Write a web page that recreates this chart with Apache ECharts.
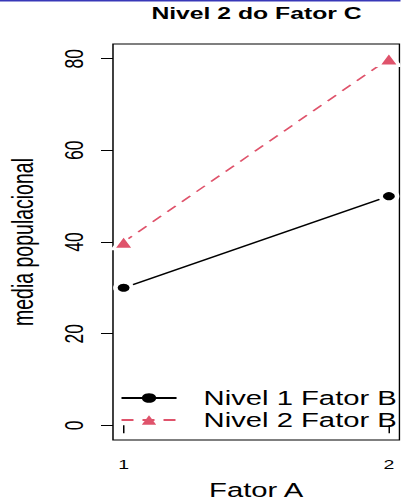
<!DOCTYPE html>
<html>
<head>
<meta charset="utf-8">
<script src="https://cdn.jsdelivr.net/npm/echarts@6/dist/echarts.min.js"></script>
<style>
  html, body { margin: 0; padding: 0; background: #fff; overflow: hidden; }
  #c { width: 267.333px; height: 500px; transform: scaleX(1.5); transform-origin: 0 0; }
</style>
</head>
<body>
<div id="c"></div>
<script>
// Data
const titleText = 'Nivel 2 do Fator C';
const xName = 'Fator A';
const yName = 'media populacional';
const factorA = [1, 2];
const nivel1FatorB = [30, 50];
const nivel2FatorB = [40, 80];
const seriesNames = ['Nivel 1 Fator B', 'Nivel 2 Fator B'];
const xTicks = [1, 2];
const yTicks = [0, 20, 40, 60, 80];

const FONT = 'Liberation Sans, Arial, sans-serif';
const RED = '#DF536B';

const chart = echarts.init(document.getElementById('c'), null, { renderer: 'svg' });

chart.setOption({
  animation: false,
  backgroundColor: '#fff',
  title: {
    text: titleText,
    left: 171,
    top: 5,
    padding: 0,
    textAlign: 'center',
    textStyle: { fontFamily: FONT, fontSize: 16.5, fontWeight: 'bold', color: '#000' }
  },
  graphic: [
    { type: 'rect', left: 0, top: 0, shape: { width: 267.333, height: 1.5 }, style: { fill: '#3838b8' }, silent: true }
  ],
  grid: {
    left: 75.33, right: 0.67, top: 44, bottom: 60,
    containLabel: false,
    outerBoundsMode: 'none',
    show: true, borderColor: '#000', borderWidth: 1, backgroundColor: 'transparent'
  },
  legend: {
    orient: 'vertical',
    left: 80,
    top: 388,
    padding: 0,
    itemWidth: 36.7,
    itemHeight: 12,
    itemGap: 2,
    data: seriesNames,
    itemStyle: { borderWidth: 0 },
    textStyle: { fontFamily: FONT, fontSize: 19.5, color: '#000', lineHeight: 19, padding: [0, 0, 0, 13] }
  },
  xAxis: {
    type: 'value',
    min: 0.96, max: 2.04,
    name: xName,
    nameLocation: 'middle',
    nameGap: 40.5,
    nameTextStyle: { fontFamily: FONT, fontSize: 19.5, lineHeight: 19.5, color: '#000' },
    axisLine: { show: false },
    splitLine: { show: false },
    axisTick: { show: true, length: 8, inside: false, lineStyle: { color: '#000', width: 1 }, customValues: xTicks },
    axisLabel: { fontFamily: FONT, fontSize: 13, color: '#000', margin: 18, customValues: xTicks, formatter: v => String(v) }
  },
  yAxis: {
    type: 'value',
    min: -3.2, max: 83.2,
    name: yName,
    nameLocation: 'middle',
    nameGap: 50,
    nameTextStyle: { fontFamily: FONT, fontSize: 19.5, color: '#000' },
    axisLine: { show: false },
    splitLine: { show: false },
    axisTick: { show: true, length: 8, inside: false, lineStyle: { color: '#000', width: 1 }, customValues: yTicks },
    axisLabel: { fontFamily: FONT, fontSize: 17.5, color: '#000', rotate: 90, margin: 17, customValues: yTicks, formatter: v => String(v) }
  },
  series: [
    {
      name: seriesNames[0],
      type: 'line',
      data: factorA.map((a, i) => [a, nivel1FatorB[i]]),
      symbol: 'circle',
      symbolSize: 11,
      showSymbol: true,
      lineStyle: { color: '#000', width: 1.4, type: 'solid' },
      itemStyle: { color: '#000', borderColor: '#fff', borderWidth: 3 }
    },
    {
      name: seriesNames[1],
      type: 'line',
      data: factorA.map((a, i) => [a, nivel2FatorB[i]]),
      symbol: 'triangle',
      symbolSize: 14,
      showSymbol: true,
      lineStyle: { color: RED, width: 1.4, type: [8, 6] },
      itemStyle: { color: RED, borderColor: '#fff', borderWidth: 2.5 }
    }
  ]
});
</script>
</body>
</html>
